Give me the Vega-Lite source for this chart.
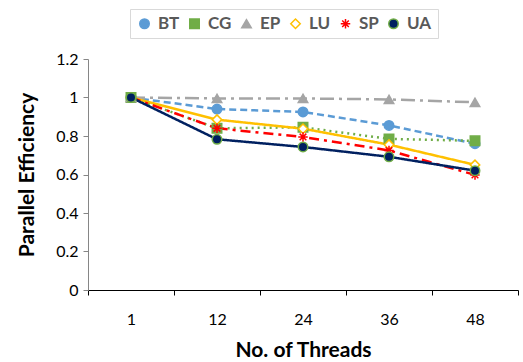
{
"$schema": "https://vega.github.io/schema/vega-lite/v6.json",
"width": 430, "height": 231,
"padding": {"left": 16, "top": 8, "right": 3, "bottom": 5},
"config": {
  "view": {"stroke": null},
  "font": "Lato",
  "axis": {"labelFont": "Lato", "titleFont": "Lato", "grid": false, "labelColor": "#000", "titleColor": "#000", "labelFontSize": 16, "titleFontSize": 21, "titleFontWeight": "bold", "labelFontWeight": "normal"},
  "legend": {"labelFont": "Lato", "labelFontSize": 17, "labelFontWeight": "bold", "labelColor": "#595959", "symbolSize": 90, "symbolStrokeWidth": 1.5, "columnPadding": 6, "labelOffset": 5}
},
"data": {"values": [
  {"threads": 1, "bench": "BT", "eff": 1.0},
  {"threads": 12, "bench": "BT", "eff": 0.94},
  {"threads": 24, "bench": "BT", "eff": 0.925},
  {"threads": 36, "bench": "BT", "eff": 0.855},
  {"threads": 48, "bench": "BT", "eff": 0.76},
  {"threads": 1, "bench": "CG", "eff": 1.0},
  {"threads": 12, "bench": "CG", "eff": 0.84},
  {"threads": 24, "bench": "CG", "eff": 0.845},
  {"threads": 36, "bench": "CG", "eff": 0.785},
  {"threads": 48, "bench": "CG", "eff": 0.775},
  {"threads": 1, "bench": "EP", "eff": 1.0},
  {"threads": 12, "bench": "EP", "eff": 0.995},
  {"threads": 24, "bench": "EP", "eff": 0.995},
  {"threads": 36, "bench": "EP", "eff": 0.99},
  {"threads": 48, "bench": "EP", "eff": 0.975},
  {"threads": 1, "bench": "LU", "eff": 1.0},
  {"threads": 12, "bench": "LU", "eff": 0.885},
  {"threads": 24, "bench": "LU", "eff": 0.838},
  {"threads": 36, "bench": "LU", "eff": 0.755},
  {"threads": 48, "bench": "LU", "eff": 0.65},
  {"threads": 1, "bench": "SP", "eff": 1.0},
  {"threads": 12, "bench": "SP", "eff": 0.84},
  {"threads": 24, "bench": "SP", "eff": 0.795},
  {"threads": 36, "bench": "SP", "eff": 0.725},
  {"threads": 48, "bench": "SP", "eff": 0.598},
  {"threads": 1, "bench": "UA", "eff": 1.0},
  {"threads": 12, "bench": "UA", "eff": 0.783},
  {"threads": 24, "bench": "UA", "eff": 0.743},
  {"threads": 36, "bench": "UA", "eff": 0.692},
  {"threads": 48, "bench": "UA", "eff": 0.62}
]},
"encoding": {
  "x": {"field": "threads", "type": "ordinal", "title": "No. of Threads",
        "scale": {"type": "band", "paddingInner": 0, "paddingOuter": 0},
        "axis": {"labelAngle": 0, "tickBand": "extent", "domainColor": "#000", "tickColor": "#000", "tickSize": 5, "labelPadding": 16, "titlePadding": 12}},
  "y": {"field": "eff", "type": "quantitative", "title": "Parallel Efficiency",
        "scale": {"domain": [0, 1.2], "nice": false, "zero": true},
        "axis": {"values": [0, 0.2, 0.4, 0.6, 0.8, 1, 1.2], "format": "~g", "domainColor": "#868686", "tickColor": "#868686", "tickSize": 5, "labelPadding": 5, "titlePadding": 18}}
},
"layer": [
  {"mark": {"type": "line", "strokeWidth": 2.5},
   "encoding": {
     "detail": {"field": "bench", "type": "nominal"},
     "color": {"condition": [
        {"test": "datum.bench === 'BT'", "value": "#5B9BD5"},
        {"test": "datum.bench === 'CG'", "value": "#70AD47"},
        {"test": "datum.bench === 'EP'", "value": "#A5A5A5"},
        {"test": "datum.bench === 'LU'", "value": "#FFC000"},
        {"test": "datum.bench === 'SP'", "value": "#FF0000"}], "value": "#002060"},
     "strokeDash": {"condition": [
        {"test": "datum.bench === 'BT'", "value": [7, 4]},
        {"test": "datum.bench === 'CG'", "value": [2, 4]},
        {"test": "datum.bench === 'EP'", "value": [14, 5, 3, 5]},
        {"test": "datum.bench === 'SP'", "value": [10, 5, 3, 5]}], "value": [1, 0]}
   }},
  {"mark": {"type": "point", "filled": true, "strokeWidth": 1.5, "opacity": 1, "fillOpacity": 1, "size": 90},
   "encoding": {
     "shape": {"field": "bench", "type": "nominal",
               "scale": {"range": ["circle", "square", "triangle-up", "diamond", "M-1,0L1,0M0,-1L0,1M-0.7,-0.7L0.7,0.7M-0.7,0.7L0.7,-0.7", "circle"]},
               "legend": {"orient": "none", "legendX": 42, "legendY": -50, "direction": "horizontal", "title": null, "strokeColor": "#d9d9d9", "padding": 6}},
     "fill": {"field": "bench", "type": "nominal",
               "scale": {"range": ["#5B9BD5", "#70AD47", "#A5A5A5", "#FFFFFF", "#FF0000", "#002060"]},
               "legend": {"orient": "none", "legendX": 42, "legendY": -50, "direction": "horizontal", "title": null, "strokeColor": "#d9d9d9", "padding": 6}},
     "stroke": {"field": "bench", "type": "nominal",
               "scale": {"range": ["#5B9BD5", "#70AD47", "#A5A5A5", "#FFC000", "#FF0000", "#70AD47"]},
               "legend": {"orient": "none", "legendX": 42, "legendY": -50, "direction": "horizontal", "title": null, "strokeColor": "#d9d9d9", "padding": 6}}
   }}
]
}
